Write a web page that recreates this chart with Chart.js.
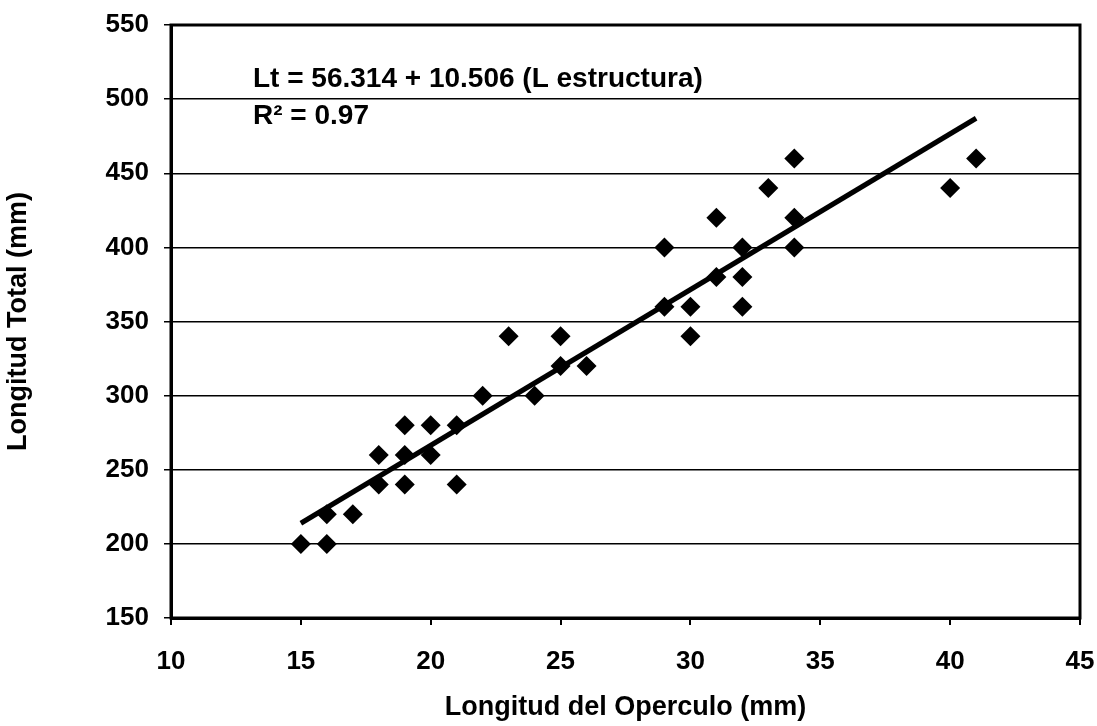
<!DOCTYPE html>
<html>
<head>
<meta charset="utf-8">
<script src="https://cdn.jsdelivr.net/npm/chart.js@4.4.1/dist/chart.umd.min.js"></script>
<style>
  html, body { margin: 0; padding: 0; background: #fff; }
  #wrap { width: 1097px; height: 726px; position: relative; }
</style>
</head>
<body>
<div id="wrap"><canvas id="c"></canvas></div>
<script>
// Data
const operculo = [15, 16, 16, 17, 18, 18, 19, 19, 19, 20, 20, 21, 21, 22, 23, 24, 25, 25, 26,
                  29, 29, 30, 30, 31, 31, 32, 32, 32, 33, 34, 34, 34, 40, 41];
const longitudTotal = [200, 220, 200, 220, 260, 240, 280, 260, 240, 280, 260, 280, 240, 300, 340, 300, 340, 320, 320,
                       400, 360, 360, 340, 420, 380, 400, 380, 360, 440, 460, 420, 400, 440, 460];
const trendX = [15, 41];
const trendY = [213.9, 487.1];
const xTicks = [10, 15, 20, 25, 30, 35, 40, 45];
const yTicks = [150, 200, 250, 300, 350, 400, 450, 500, 550];
const equationLines = ['Lt = 56.314 + 10.506 (L estructura)', 'R² = 0.97'];
const xTitle = 'Longitud del Operculo (mm)';
const yTitle = 'Longitud Total (mm)';

const FONT = '"Liberation Sans", Arial, sans-serif';

const points = operculo.map((x, i) => ({ x: x, y: longitudTotal[i] }));
const trend = trendX.map((x, i) => ({ x: x, y: trendY[i] }));

const framePlugin = {
  id: 'frame',
  afterDraw(chart) {
    const { ctx, chartArea: a } = chart;
    ctx.save();
    ctx.strokeStyle = '#000';
    ctx.lineWidth = 3;
    ctx.strokeRect(a.left, a.top, a.right - a.left, a.bottom - a.top);
    ctx.restore();
  }
};

const equationPlugin = {
  id: 'equation',
  afterDatasetsDraw(chart) {
    const { ctx } = chart;
    ctx.save();
    ctx.fillStyle = '#000';
    ctx.font = 'bold 28px ' + FONT;
    ctx.textAlign = 'left';
    ctx.textBaseline = 'alphabetic';
    ctx.fillText(equationLines[0], 253, 87);
    ctx.fillText(equationLines[1], 253, 124);
    ctx.restore();
  }
};

new Chart(document.getElementById('c'), {
  type: 'scatter',
  data: {
    datasets: [
      {
        type: 'line',
        label: 'Tendencia',
        data: trend,
        borderColor: '#000',
        borderWidth: 5,
        pointRadius: 0,
        fill: false,
        order: 0
      },
      {
        label: 'Datos',
        data: points,
        pointStyle: 'rectRot',
        pointRadius: 10,
        pointHoverRadius: 10,
        backgroundColor: '#000',
        borderColor: '#000',
        borderWidth: 0,
        order: 1
      }
    ]
  },
  options: {
    responsive: true,
    maintainAspectRatio: false,
    animation: false,
    layout: { padding: { top: 25, right: 17, left: 0, bottom: 0 } },
    plugins: {
      legend: { display: false },
      tooltip: { enabled: false }
    },
    scales: {
      x: {
        type: 'linear',
        min: xTicks[0],
        max: xTicks[xTicks.length - 1],
        afterBuildTicks(scale) { scale.ticks = xTicks.map(v => ({ value: v })); },
        ticks: {
          color: '#000',
          font: { family: FONT, size: 26, weight: 'bold' },
          padding: 21,
          maxRotation: 0
        },
        grid: {
          drawOnChartArea: false,
          drawTicks: true,
          tickLength: 7,
          color: '#000',
          lineWidth: 2
        },
        border: { display: true, color: '#000', width: 3 },
        title: {
          display: true,
          text: xTitle,
          color: '#000',
          font: { family: FONT, size: 27, weight: 'bold' },
          padding: { top: 8, bottom: 2 }
        },
        afterFit(scale) {
          scale.height = 108;
          scale.paddingLeft = 0;
          scale.paddingRight = 0;
        }
      },
      y: {
        type: 'linear',
        min: yTicks[0],
        max: yTicks[yTicks.length - 1],
        afterBuildTicks(scale) { scale.ticks = yTicks.map(v => ({ value: v })); },
        ticks: {
          color: '#000',
          font: { family: FONT, size: 26, weight: 'bold' },
          padding: 15
        },
        grid: {
          drawOnChartArea: true,
          drawTicks: true,
          tickLength: 7,
          color: '#000',
          lineWidth: 1.5
        },
        border: { display: true, color: '#000', width: 3 },
        title: {
          display: true,
          text: yTitle,
          color: '#000',
          font: { family: FONT, size: 27, weight: 'bold' },
          padding: { top: 2, bottom: 0 }
        },
        afterFit(scale) {
          scale.width = 171;
          scale.paddingTop = 0;
          scale.paddingBottom = 0;
        }
      }
    }
  },
  plugins: [framePlugin, equationPlugin]
});
</script>
</body>
</html>
